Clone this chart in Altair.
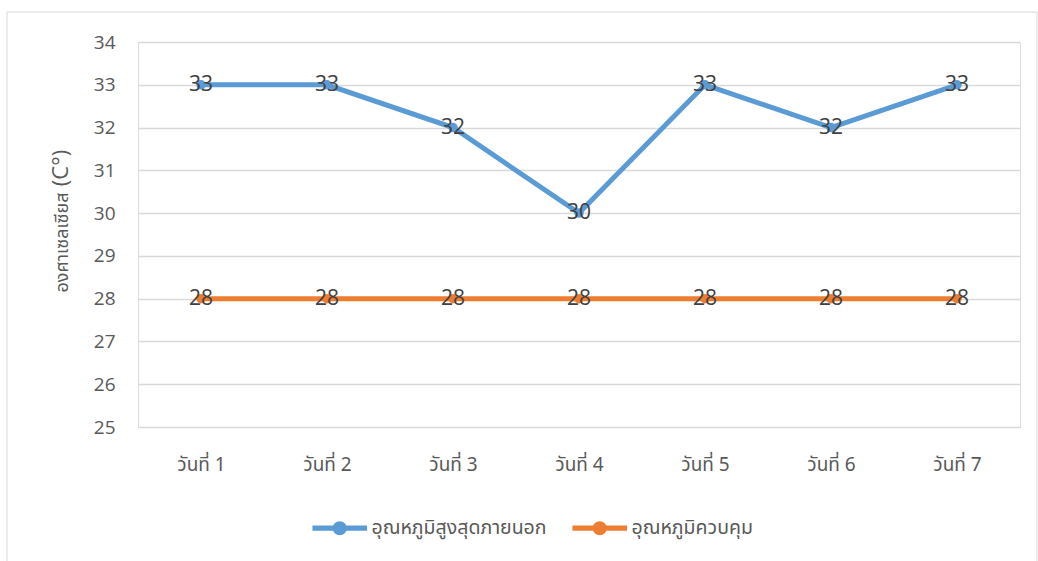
import altair as alt
import pandas as pd

days = ["วันที่ 1", "วันที่ 2", "วันที่ 3", "วันที่ 4", "วันที่ 5", "วันที่ 6", "วันที่ 7"]
outside_max = [33, 33, 32, 30, 33, 32, 33]
controlled = [28, 28, 28, 28, 28, 28, 28]
series_names = ["อุณหภูมิสูงสุดภายนอก", "อุณหภูมิควบคุม"]
series_colors = ["#5B9BD5", "#ED7D31"]
y_ticks = [25, 26, 27, 28, 29, 30, 31, 32, 33, 34]
y_title = "องศาเซลเซียส"
y_unit = "(C°)"

thai_font = "Noto Sans Thai, Liberation Sans, sans-serif"

rows = []
for d, v in zip(days, outside_max):
    rows.append({"day": d, "temp": v, "series": series_names[0]})
for d, v in zip(days, controlled):
    rows.append({"day": d, "temp": v, "series": series_names[1]})
df = pd.DataFrame(rows)

# legend glyph: a bar with a dot in the middle
legend_glyph = (
    "M -3.9 -0.36 H 3.9 V 0.36 H -3.9 Z "
    "M 1 0 A 1 1 0 1 1 -1 0 A 1 1 0 1 1 1 0 Z"
)

x_enc = alt.X(
    "day:N", sort=days, scale=alt.Scale(paddingInner=0, paddingOuter=0),
    axis=alt.Axis(title=None, labelAngle=0, ticks=False, domain=False,
                  labelPadding=28, labelFontSize=19, labelColor="#595959",
                  labelFont=thai_font, grid=False),
)
y_enc = alt.Y(
    "temp:Q", scale=alt.Scale(domain=[25, 34], nice=False, zero=False),
    axis=alt.Axis(values=y_ticks, title=y_title, titleFontSize=18, titleFont=thai_font,
                  titleColor="#595959", titleFontWeight="normal",
                  titleX=-76, titleY=200, titleBaseline="middle", titleAlign="center",
                  labelFontSize=19, labelColor="#595959", labelFont="Open Sans",
                  labelPadding=23, ticks=False, domain=False,
                  gridColor="#d9d9d9", gridWidth=1.3),
)
color_enc = alt.Color(
    "series:N", sort=series_names,
    scale=alt.Scale(domain=series_names, range=series_colors),
    legend=alt.Legend(title=None, orient="none", direction="horizontal",
                      legendX=192, legendY=476, symbolType=legend_glyph,
                      symbolSize=196, symbolStrokeWidth=0, labelOffset=22,
                      labelFontSize=19.5, labelColor="#595959", columnPadding=25,
                      labelFont=thai_font, labelLimit=400),
)

base = alt.Chart(df)

frame = alt.Chart(pd.DataFrame({"k": [0]})).mark_rect(
    fill=None, stroke="#d9d9d9", strokeWidth=1
).encode(x=alt.value(-131), y=alt.value(-30), x2=alt.value(899), y2=alt.value(540))

unit = alt.Chart(pd.DataFrame({"t": [y_unit]})).mark_text(
    fontSize=22, color="#595959", angle=270, font="Open Sans", baseline="middle"
).encode(text="t:N", x=alt.value(-77), y=alt.value(126))

lines = base.mark_line(strokeWidth=5).encode(x=x_enc, y=y_enc, color=color_enc)
points = base.mark_point(filled=True, size=90, opacity=1).encode(
    x=x_enc, y=y_enc,
    color=alt.Color("series:N", scale=alt.Scale(domain=series_names, range=series_colors), legend=None),
)
labels = base.mark_text(fontSize=21, color="#404040", font="Open Sans", baseline="middle").encode(
    x=x_enc, y=y_enc, text="temp:Q"
)

chart = alt.layer(frame, unit, lines, points, labels).properties(
    width=882, height=385,
    autosize=alt.AutoSizeParams(type="none"),
    padding={"left": 138, "top": 42, "right": 18, "bottom": 134},
).configure_view(stroke=None).configure(background="white")

chart.save("out.html", embed_options={"renderer": "svg", "actions": False})
